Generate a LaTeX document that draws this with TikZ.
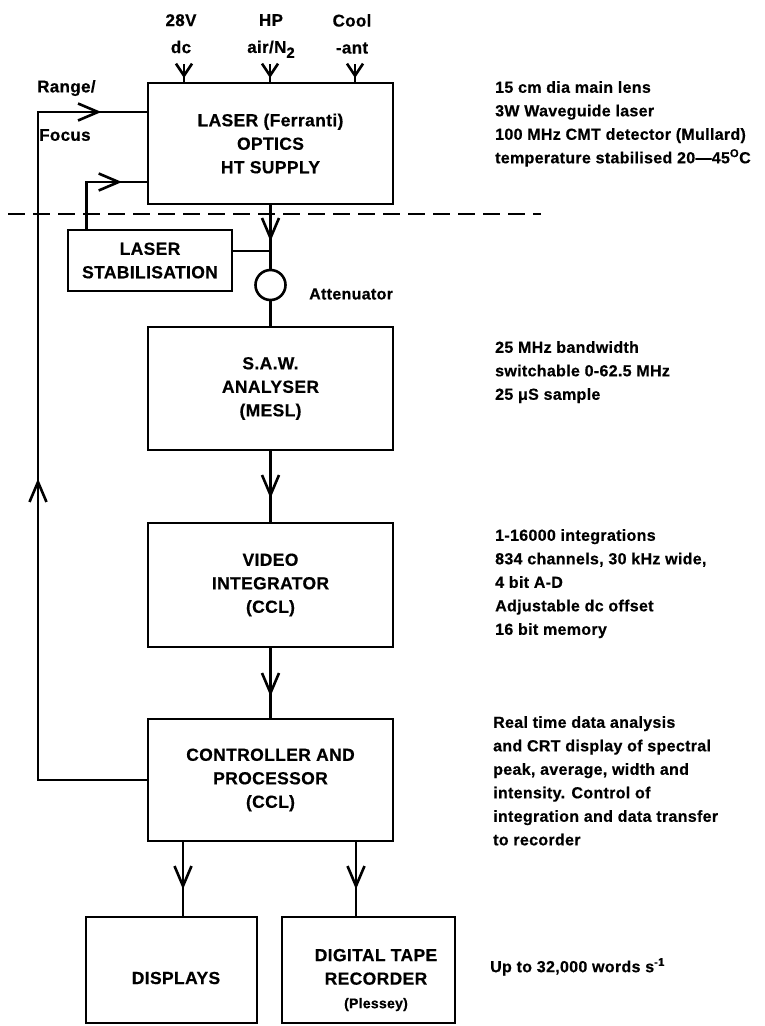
\documentclass[tikz,border=0pt]{standalone}
\usepackage{fontspec}
\setmainfont{Liberation Sans}[LetterSpace=2, BoldFeatures={FakeBold=0.5}]
\usetikzlibrary{arrows.meta,decorations.markings}
\newcommand\unitfont{\fontsize{17.5}{23.5}\selectfont\bfseries}
\newcommand\notefont{\fontsize{16}{23.5}\selectfont\bfseries}
\newcommand\tagfont{\fontsize{17}{27}\selectfont\bfseries}
\begin{document}
\begin{tikzpicture}[x=1pt, y=-1pt,
  wire/.style={line width=2.6pt},
  unit/.style={draw, line width=2.7pt, inner sep=0pt, align=center, font=\unitfont},
  caption/.style={inner sep=0pt, align=center, font=\unitfont},
  note/.style={anchor=north west, inner sep=0pt, align=left, font=\notefont},
  tag/.style={inner sep=0pt, align=center, font=\tagfont},
  barb/.tip={Straight Barb[length=20pt,width=17pt]},
  smallbarb/.tip={Straight Barb[length=12pt,width=16pt]},
  flowtip/.style={postaction={decorate}, decoration={markings,
      mark=at position #1 with {\arrow{barb}}}},
  feedtips/.style 2 args={postaction={decorate}, decoration={markings,
      mark=at position #1 with {\arrow{barb}},
      mark=at position #2 with {\arrow{barb}}}},
  intip/.style={postaction={decorate}, decoration={markings,
      mark=at position #1 with {\arrow{smallbarb}}}},
  cut/.style={line width=2.2pt, dash pattern=on 17pt off 8pt},
]
\useasboundingbox (0,0) rectangle (765,1026);
\fill[white] (0,0) rectangle (765,1026);

% main units
\node[unit, minimum width=245pt, minimum height=121pt] (laser) at (270.5,143.5)
  {LASER (Ferranti)\\OPTICS\\HT SUPPLY};
\node[unit, minimum width=164pt, minimum height=61pt] (stab) at (150,260.5)
  {LASER\\STABILISATION};
\node[draw, circle, line width=2.6pt, minimum size=30pt, inner sep=0pt] (att) at (270.5,285) {};
\node[unit, minimum width=245pt, minimum height=123pt] (saw) at (270.5,388.5)
  {S.A.W.\\ANALYSER\\(MESL)};
\node[unit, minimum width=245pt, minimum height=124pt] (video) at (270.5,585)
  {VIDEO\\INTEGRATOR\\(CCL)};
\node[unit, minimum width=245pt, minimum height=122pt] (ctrl) at (270.5,780)
  {CONTROLLER AND\\PROCESSOR\\(CCL)};
\node[unit, minimum width=171pt, minimum height=106pt] (disp) at (171.5,970) {};
\node[caption] (disptext) at (176,978) {DISPLAYS};
\node[unit, minimum width=173pt, minimum height=106pt] (rec) at (368.5,970) {};
\node[caption] (rectext) at (376,980)
  {DIGITAL TAPE\\RECORDER\\{\fontsize{14}{23.5}\selectfont (Plessey)}};

% supplies into the laser head
\node[tag, anchor=north] (t1) at (181,14) {28V\\dc};
\node[tag, anchor=north] (t2) at (271,14) {HP\\air/N\raisebox{-5pt}{\fontsize{15}{15}\selectfont 2}};
\node[tag, anchor=north] (t3) at (352,14) {Cool\\-ant};
\coordinate (i1) at (184,64);
\coordinate (i2) at (270,64);
\coordinate (i3) at (355,64);
\draw[wire, intip=14pt] (i1) -- (i1 |- laser.north);
\draw[wire, intip=14pt] (i2) -- (i2 |- laser.north);
\draw[wire, intip=14pt] (i3) -- (i3 |- laser.north);

% optical head boundary
\coordinate (cutL) at (8,214);
\coordinate (cutR) at (541,214);
\draw[cut] (cutL) -- (cutR);

% signal chain
\draw[wire, flowtip=36pt] (laser.south) -- (att.north);
\draw[wire] (att.south) -- (saw.north);
\draw[wire] ([yshift=9.5pt]stab.east) -- ([yshift=9.5pt]stab.east -| laser.south);
\draw[wire, flowtip=82pt] ([xshift=20pt]stab.north west) |- ([yshift=-38.5pt]laser.west);
\draw[wire, flowtip=47pt] (saw.south) -- (video.north);
\draw[wire, flowtip=48pt] (video.south) -- (ctrl.north);
\coordinate (o1) at ([xshift=-87.5pt]ctrl.south);
\coordinate (o2) at ([xshift=85.5pt]ctrl.south);
\draw[wire, flowtip=47pt] (o1) -- (o1 |- disp.north);
\draw[wire, flowtip=47pt] (o2) -- (o2 |- rec.north);

% range / focus feedback loop
\coordinate (fbB) at (38,780);
\coordinate (fbT) at (38,112);
\draw[wire, feedtips={410pt}{840pt}] (ctrl.west) -- (fbB) -- (fbT) -- ([yshift=31.5pt]laser.west);
\node[tag, anchor=west] (range) at (37,88) {Range/};
\node[tag, anchor=west] (focus) at (39,135) {Focus};
\node[note, anchor=west] (attlabel) at (309,294) {Attenuator};

% specifications
\node[note] (n1) at (495,81) {15 cm dia main lens\\3W Waveguide laser\\100 MHz CMT detector (Mullard)\\temperature stabilised 20—45\textsuperscript{O}C};
\node[note] (n2) at (495,341) {25 MHz bandwidth\\switchable 0-62.5 MHz\\25 μS sample};
\node[note] (n3) at (495,529) {1-16000 integrations\\834 channels, 30 kHz wide,\\4 bit A-D\\Adjustable dc offset\\16 bit memory};
\node[note] (n4) at (493,716) {Real time data analysis\\and CRT display of spectral\\peak, average, width and\\intensity. Control of\\integration and data transfer\\to recorder};
\node[note] (n5) at (490,958) {Up to 32,000 words s\textsuperscript{-1}};
\end{tikzpicture}
\end{document}
